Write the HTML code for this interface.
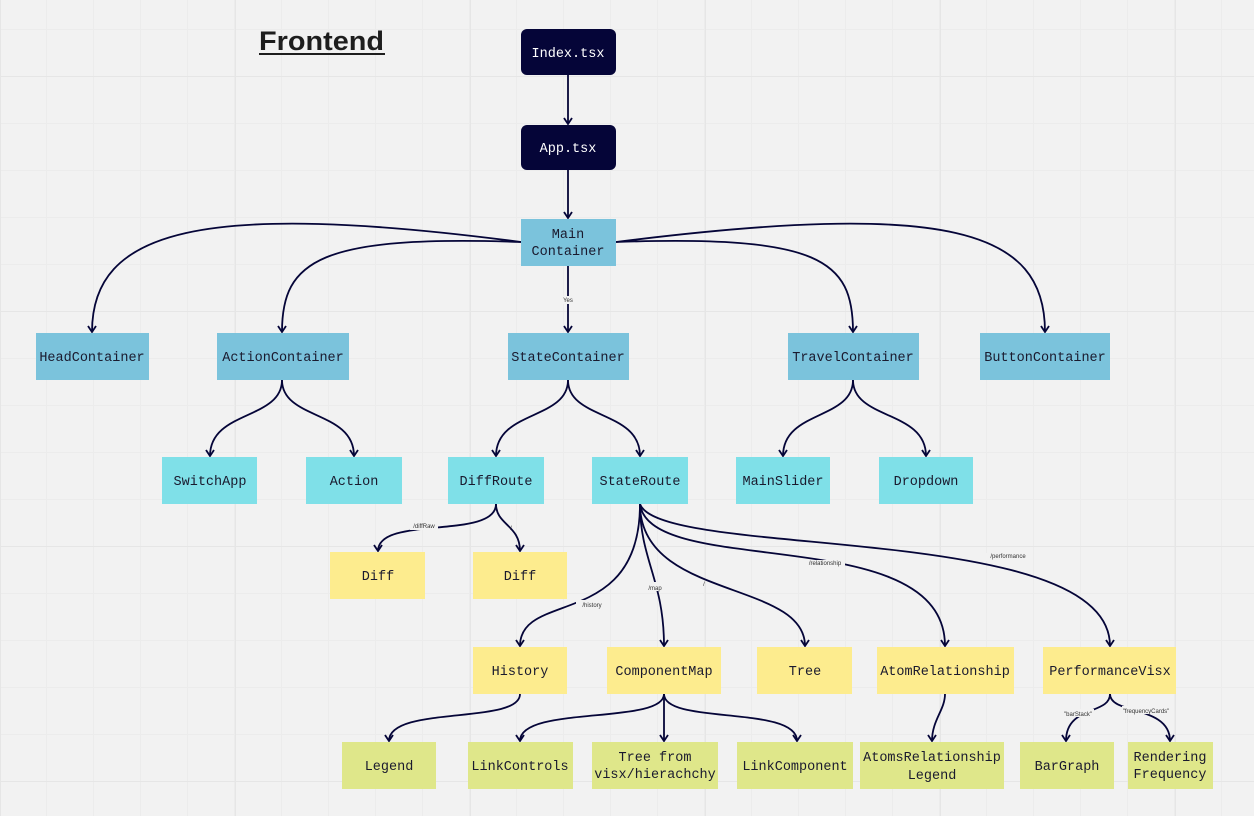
<!DOCTYPE html>
<html><head><meta charset="utf-8"><style>
html,body{margin:0;padding:0}
body{width:1254px;height:816px;overflow:hidden;background-color:#f2f2f2;
background-image:linear-gradient(#e6e6e6 1px,transparent 1px),linear-gradient(90deg,#e6e6e6 1px,transparent 1px),linear-gradient(#ececec 1px,transparent 1px),linear-gradient(90deg,#ececec 1px,transparent 1px);
background-size:235px 235px,235px 235px,47px 47px,47px 47px;background-position:0 76px,235px 0,0 29px,46px 0;}
svg{position:absolute;left:0;top:0}
</style></head><body>
<svg width="1254" height="816" viewBox="0 0 1254 816" font-family="Liberation Mono, monospace">
<defs><marker id="a" viewBox="0 0 10 10" refX="8" refY="5" markerWidth="10" markerHeight="10" orient="auto" markerUnits="userSpaceOnUse"><path d="M2,1 L8,5 L2,9" fill="none" stroke="#050538" stroke-width="1.8"/></marker></defs>
<text x="259" y="50" font-family="Liberation Sans, sans-serif" font-weight="bold" font-size="27" textLength="125" lengthAdjust="spacingAndGlyphs" fill="#1e1e1e">Frontend</text>
<rect x="259" y="53" width="126" height="2" fill="#1e1e1e"/>
<g fill="none" stroke="#050538" stroke-width="1.8" marker-end="url(#a)">
<path d="M568,75 L568,124"/>
<path d="M568,170 L568,218"/>
<path d="M521,242 C200,200 92,230 92,332"/>
<path d="M521,242 C320,235 282,260 282,332"/>
<path d="M568,266 L568,332"/>
<path d="M616,242 C820,235 853,260 853,332"/>
<path d="M616,242 C950,200 1045,230 1045,332"/>
<path d="M282,380 C282,420 210,410 210,456"/>
<path d="M282,380 C282,420 354,410 354,456"/>
<path d="M568,380 C568,420 496,410 496,456"/>
<path d="M568,380 C568,420 640,410 640,456"/>
<path d="M853,380 C853,420 783,410 783,456"/>
<path d="M853,380 C853,420 926,410 926,456"/>
<path d="M496,504 C496,540 378,515 378,551"/>
<path d="M496,504 C496,525 520,525 520,551"/>
<path d="M640,504 C640,630 520,590 520,646"/>
<path d="M640,504 C640,560 664,580 664,646"/>
<path d="M640,504 C640,600 805,580 805,646"/>
<path d="M640,504 C650,580 945,520 945,646"/>
<path d="M640,504 C660,560 1110,520 1110,646"/>
<path d="M520,694 C520,725 389,705 389,741"/>
<path d="M664,694 C664,725 520,705 520,741"/>
<path d="M664,694 L664,741"/>
<path d="M664,694 C664,725 797,705 797,741"/>
<path d="M945,694 C945,710 932,720 932,741"/>
<path d="M1110,694 C1110,715 1066,705 1066,741"/>
<path d="M1110,694 C1110,715 1170,705 1170,741"/>
</g>
<g fill="#f2f2f2">
<rect x="562" y="296" width="12" height="8"/><rect x="410" y="522" width="28" height="8"/><rect x="576" y="600" width="32" height="9"/><rect x="648" y="582" width="14" height="9"/><rect x="805" y="560" width="40" height="8"/><rect x="985" y="553" width="45" height="8"/><rect x="1062" y="709" width="32" height="8"/><rect x="1122" y="706" width="50" height="8"/>
</g>
<g font-family="Liberation Sans, sans-serif" font-size="6" fill="#333" text-anchor="middle">
<text x="568" y="302">Yes</text><text x="424" y="528">/diffRaw</text><text x="511" y="530">/</text>
<text x="592" y="607">/history</text><text x="655" y="590">/map</text><text x="704" y="586">/</text>
<text x="825" y="565">/relationship</text><text x="1008" y="558">/performance</text>
<text x="1078" y="716">"barStack"</text><text x="1146" y="713">"frequencyCards"</text>
</g>
<g font-size="13.5" text-anchor="middle" fill="#1a1a2e">
<rect x="521" y="29" width="95" height="46" rx="6" fill="#050538"/><text x="568" y="57" fill="#fff">Index.tsx</text>
<rect x="521" y="125" width="95" height="45" rx="6" fill="#050538"/><text x="568" y="152" fill="#fff">App.tsx</text>
<rect x="521" y="219" width="95" height="47" fill="#7bc3dc"/><text x="568" y="238">Main</text><text x="568" y="255">Container</text>
<rect x="36" y="333" width="113" height="47" fill="#7bc3dc"/><text x="92" y="361">HeadContainer</text>
<rect x="217" y="333" width="132" height="47" fill="#7bc3dc"/><text x="283" y="361">ActionContainer</text>
<rect x="508" y="333" width="121" height="47" fill="#7bc3dc"/><text x="568" y="361">StateContainer</text>
<rect x="788" y="333" width="131" height="47" fill="#7bc3dc"/><text x="853" y="361">TravelContainer</text>
<rect x="980" y="333" width="130" height="47" fill="#7bc3dc"/><text x="1045" y="361">ButtonContainer</text>
<g fill="#7fe0e8"><rect x="162" y="457" width="95" height="47"/><rect x="306" y="457" width="96" height="47"/><rect x="448" y="457" width="96" height="47"/><rect x="592" y="457" width="96" height="47"/><rect x="736" y="457" width="94" height="47"/><rect x="879" y="457" width="94" height="47"/></g>
<text x="210" y="485">SwitchApp</text><text x="354" y="485">Action</text><text x="496" y="485">DiffRoute</text><text x="640" y="485">StateRoute</text><text x="783" y="485">MainSlider</text><text x="926" y="485">Dropdown</text>
<g fill="#fdec8e"><rect x="330" y="552" width="95" height="47"/><rect x="473" y="552" width="94" height="47"/><rect x="473" y="647" width="94" height="47"/><rect x="607" y="647" width="114" height="47"/><rect x="757" y="647" width="95" height="47"/><rect x="877" y="647" width="137" height="47"/><rect x="1043" y="647" width="133" height="47"/></g>
<text x="378" y="580">Diff</text><text x="520" y="580">Diff</text><text x="520" y="675">History</text><text x="664" y="675">ComponentMap</text><text x="805" y="675">Tree</text><text x="945" y="675">AtomRelationship</text><text x="1110" y="675">PerformanceVisx</text>
<g fill="#dfe78a"><rect x="342" y="742" width="94" height="47"/><rect x="468" y="742" width="105" height="47"/><rect x="592" y="742" width="126" height="47"/><rect x="737" y="742" width="116" height="47"/><rect x="860" y="742" width="144" height="47"/><rect x="1020" y="742" width="94" height="47"/><rect x="1128" y="742" width="85" height="47"/></g>
<text x="389" y="770">Legend</text><text x="520" y="770">LinkControls</text><text x="655" y="761">Tree from</text><text x="655" y="778">visx/hierachchy</text><text x="795" y="770">LinkComponent</text><text x="932" y="761">AtomsRelationship</text><text x="932" y="779">Legend</text><text x="1067" y="770">BarGraph</text><text x="1170" y="761">Rendering</text><text x="1170" y="778">Frequency</text>
</g>
</svg>
</body></html>
